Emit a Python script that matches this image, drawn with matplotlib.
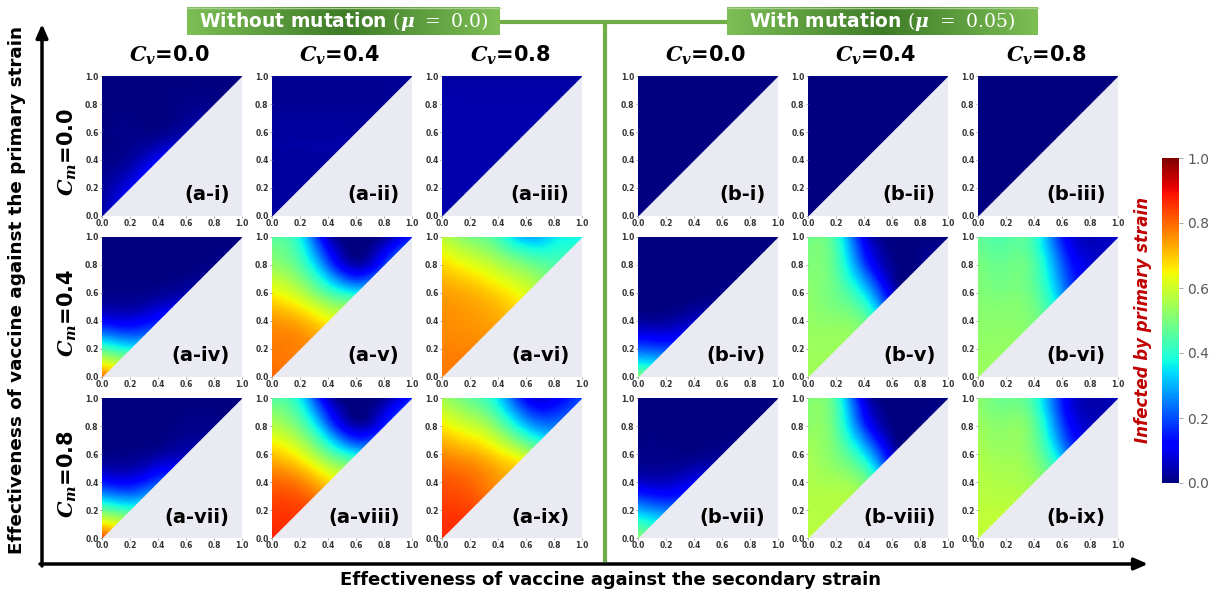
import numpy as np
import matplotlib
matplotlib.use('Agg')
import matplotlib.pyplot as plt
import matplotlib.tri as mtri
from matplotlib.colors import LinearSegmentedColormap, Normalize
from matplotlib.cm import ScalarMappable

plt.rcParams['font.family'] = ['DejaVu Sans']
plt.rcParams['mathtext.fontset'] = 'custom'
plt.rcParams['mathtext.it'] = 'DejaVu Serif:italic:bold'
plt.rcParams['mathtext.rm'] = 'DejaVu Serif'
plt.rcParams['mathtext.bf'] = 'DejaVu Serif:bold'

# ---------------- data ----------------
# grid of vaccine effectiveness values; row i holds values at
# primary = levels[i] for secondary = levels[0..i]  (primary >= secondary)
levels = [0.0, 0.2, 0.4, 0.6, 0.8, 1.0]
cv_values = ['0.0', '0.4', '0.8']
cm_values = ['0.0', '0.4', '0.8']
tick_vals = [0.0, 0.2, 0.4, 0.6, 0.8, 1.0]
cbar_ticks = [0.0, 0.2, 0.4, 0.6, 0.8, 1.0]
header_left = r'Without mutation $(\mu\ =\ 0.0)$'
header_right = r'With mutation $(\mu\ =\ 0.05)$'
xlabel_text = 'Effectiveness of vaccine against the secondary strain'
ylabel_text = 'Effectiveness of vaccine against the primary strain'
cbar_label = 'Infected by primary strain'

# without mutation
a_i = [[0.03],
       [0.02, 0.10],
       [0.01, 0.03, 0.11],
       [0.00, 0.01, 0.01, 0.04],
       [0.00, 0.00, 0.00, 0.01, 0.01],
       [0.00, 0.00, 0.00, 0.00, 0.00, 0.00]]
a_ii = [[0.03],
        [0.03, 0.03],
        [0.03, 0.03, 0.03],
        [0.03, 0.03, 0.03, 0.03],
        [0.02, 0.02, 0.02, 0.02, 0.02],
        [0.02, 0.02, 0.02, 0.02, 0.02, 0.02]]
a_iii = [[0.04],
         [0.04, 0.04],
         [0.04, 0.04, 0.04],
         [0.04, 0.04, 0.04, 0.04],
         [0.04, 0.04, 0.04, 0.04, 0.04],
         [0.03, 0.03, 0.03, 0.03, 0.03, 0.03]]
a_iv = [[0.80],
        [0.45, 0.38],
        [0.12, 0.10, 0.15],
        [0.01, 0.01, 0.02, 0.04],
        [0.00, 0.00, 0.00, 0.00, 0.01],
        [0.00, 0.00, 0.00, 0.00, 0.00, 0.00]]
a_v = [[0.80],
       [0.78, 0.77],
       [0.75, 0.72, 0.65],
       [0.65, 0.58, 0.45, 0.37],
       [0.53, 0.45, 0.22, 0.05, 0.18],
       [0.45, 0.37, 0.06, 0.00, 0.02, 0.15]]
a_vi = [[0.78],
        [0.77, 0.77],
        [0.76, 0.75, 0.73],
        [0.74, 0.72, 0.68, 0.62],
        [0.68, 0.63, 0.57, 0.50, 0.45],
        [0.58, 0.50, 0.43, 0.30, 0.35, 0.37]]
a_vii = [[0.84],
         [0.48, 0.42],
         [0.14, 0.12, 0.20],
         [0.01, 0.01, 0.03, 0.05],
         [0.00, 0.00, 0.00, 0.01, 0.01],
         [0.00, 0.00, 0.00, 0.00, 0.00, 0.00]]
a_viii = [[0.87],
          [0.85, 0.84],
          [0.80, 0.77, 0.68],
          [0.70, 0.63, 0.48, 0.36],
          [0.57, 0.48, 0.24, 0.05, 0.15],
          [0.45, 0.36, 0.06, 0.00, 0.02, 0.15]]
a_ix = [[0.86],
        [0.85, 0.84],
        [0.82, 0.80, 0.75],
        [0.76, 0.73, 0.67, 0.58],
        [0.66, 0.60, 0.50, 0.32, 0.25],
        [0.55, 0.47, 0.35, 0.12, 0.10, 0.20]]
# with mutation
b_i = [[0.0], [0.0, 0.0], [0.0, 0.0, 0.0], [0.0, 0.0, 0.0, 0.0],
       [0.0, 0.0, 0.0, 0.0, 0.0], [0.0, 0.0, 0.0, 0.0, 0.0, 0.0]]
b_ii = [[0.0], [0.0, 0.0], [0.0, 0.0, 0.0], [0.0, 0.0, 0.0, 0.0],
        [0.0, 0.0, 0.0, 0.0, 0.0], [0.0, 0.0, 0.0, 0.0, 0.0, 0.0]]
b_iii = [[0.0], [0.0, 0.0], [0.0, 0.0, 0.0], [0.0, 0.0, 0.0, 0.0],
         [0.0, 0.0, 0.0, 0.0, 0.0], [0.0, 0.0, 0.0, 0.0, 0.0, 0.0]]
b_iv = [[0.52],
        [0.22, 0.20],
        [0.03, 0.03, 0.06],
        [0.00, 0.00, 0.00, 0.01],
        [0.00, 0.00, 0.00, 0.00, 0.00],
        [0.00, 0.00, 0.00, 0.00, 0.00, 0.00]]
b_v = [[0.55],
       [0.54, 0.54],
       [0.53, 0.52, 0.48],
       [0.52, 0.48, 0.35, 0.08],
       [0.50, 0.45, 0.20, 0.02, 0.01],
       [0.48, 0.42, 0.10, 0.00, 0.00, 0.00]]
b_vi = [[0.54],
        [0.53, 0.53],
        [0.52, 0.52, 0.50],
        [0.51, 0.50, 0.47, 0.28],
        [0.50, 0.48, 0.45, 0.22, 0.08],
        [0.47, 0.45, 0.42, 0.15, 0.05, 0.08]]
b_vii = [[0.52],
         [0.30, 0.25],
         [0.07, 0.06, 0.10],
         [0.01, 0.01, 0.01, 0.02],
         [0.00, 0.00, 0.00, 0.00, 0.00],
         [0.00, 0.00, 0.00, 0.00, 0.00, 0.00]]
b_viii = [[0.58],
          [0.57, 0.57],
          [0.56, 0.55, 0.50],
          [0.55, 0.50, 0.35, 0.08],
          [0.52, 0.46, 0.18, 0.01, 0.00],
          [0.50, 0.43, 0.08, 0.00, 0.00, 0.00]]
b_ix = [[0.58],
        [0.58, 0.58],
        [0.57, 0.56, 0.54],
        [0.56, 0.54, 0.50, 0.30],
        [0.54, 0.52, 0.47, 0.20, 0.06],
        [0.52, 0.48, 0.42, 0.15, 0.04, 0.06]]

panels_left = [[a_i, a_ii, a_iii], [a_iv, a_v, a_vi], [a_vii, a_viii, a_ix]]
panels_right = [[b_i, b_ii, b_iii], [b_iv, b_v, b_vi], [b_vii, b_viii, b_ix]]
labels_left = [['(a-i)', '(a-ii)', '(a-iii)'], ['(a-iv)', '(a-v)', '(a-vi)'],
               ['(a-vii)', '(a-viii)', '(a-ix)']]
labels_right = [['(b-i)', '(b-ii)', '(b-iii)'], ['(b-iv)', '(b-v)', '(b-vi)'],
                ['(b-vii)', '(b-viii)', '(b-ix)']]

# ---------------- layout ----------------
W, H = 1216, 596
fig = plt.figure(figsize=(W / 100, H / 100), dpi=100)
fig.patch.set_facecolor('white')


def px_axes(x, y, w, h, **kw):
    return fig.add_axes([x / W, 1 - (y + h) / H, w / W, h / H], **kw)


overlay = px_axes(0, 0, W, H)
overlay.set_xlim(0, W)
overlay.set_ylim(H, 0)
overlay.axis('off')
overlay.set_zorder(0)

col_left = [102, 272, 442, 638, 808, 978]
row_top = [76, 237, 398]
PW = 140
PH = 140
cmap = plt.get_cmap('jet')


def draw_panel(ax, rows, label):
    xs, ys, zs = [], [], []
    for i, row in enumerate(rows):
        for j, v in enumerate(row):
            xs.append(levels[j])
            ys.append(levels[i])
            zs.append(v)
    tri = mtri.Triangulation(np.array(xs), np.array(ys))
    refiner = mtri.UniformTriRefiner(tri)
    tri_r, z_r = refiner.refine_field(np.array(zs), subdiv=4)
    ax.tripcolor(tri_r, np.clip(z_r, 0, 1), shading='gouraud', cmap=cmap,
                 vmin=0, vmax=1, rasterized=True)
    ax.set_facecolor('#EAEAF2')
    ax.set_xlim(0, 1)
    ax.set_ylim(0, 1)
    for s in ax.spines.values():
        s.set_visible(False)
    ax.set_xticks(tick_vals)
    ax.set_yticks(tick_vals)
    ax.set_xticklabels(['%.1f' % t for t in tick_vals])
    ax.set_yticklabels(['%.1f' % t for t in tick_vals])
    ax.tick_params(length=1.5, width=0.5, color='#888888', pad=1,
                   labelsize=5.5, labelcolor='#333333')
    for t in ax.get_xticklabels() + ax.get_yticklabels():
        t.set_fontweight('bold')
    ax.text(0.91, 0.15, label, transform=ax.transAxes, ha='right',
            va='center', fontsize=14, fontweight='bold', color='black')


for r in range(3):
    for c in range(3):
        ax = px_axes(col_left[c], row_top[r], PW, PH)
        draw_panel(ax, panels_left[r][c], labels_left[r][c])
        ax2 = px_axes(col_left[c + 3], row_top[r], PW, PH)
        draw_panel(ax2, panels_right[r][c], labels_right[r][c])

# column titles
for k in range(6):
    cx = col_left[k] + PW / 2 - 2
    overlay.text(cx, 55, r'$C_v$=' + cv_values[k % 3], ha='center',
                 va='center', fontsize=15, fontweight='bold')

# row titles
for r in range(3):
    cy = row_top[r] + PH / 2 + 6
    overlay.text(67, cy, r'$C_m$=' + cm_values[r], ha='center', va='center',
                 rotation=90, fontsize=15, fontweight='bold')

# axis arrows
overlay.annotate('', xy=(42, 24), xytext=(42, 566),
                 arrowprops=dict(arrowstyle='-|>,head_length=0.8,head_width=0.35',
                                 lw=2.5, color='black', shrinkA=0, shrinkB=0))
overlay.annotate('', xy=(1148, 564), xytext=(40, 564),
                 arrowprops=dict(arrowstyle='-|>,head_length=0.8,head_width=0.35',
                                 lw=2.5, color='black', shrinkA=0, shrinkB=0))
overlay.text(610, 580, xlabel_text, ha='center', va='center', fontsize=13,
             fontweight='bold')
overlay.text(17, 290, ylabel_text, ha='center', va='center', fontsize=13.2,
             fontweight='bold', rotation=90)

# green separator lines
green = '#70AD47'
overlay.plot([500, 727], [22, 22], color=green, lw=3, solid_capstyle='butt')
overlay.plot([605, 605], [22, 562], color=green, lw=3, solid_capstyle='butt')

# header boxes with gradient
grad_cmap = LinearSegmentedColormap.from_list('g', ['#7DBE55', '#3E7B27', '#7DBE55'])
grad = np.linspace(0, 1, 200).reshape(1, -1)
for (x0, x1, txt) in [(187, 500, header_left), (727, 1038, header_right)]:
    overlay.imshow(grad, cmap=grad_cmap, extent=(x0, x1, 35, 7), aspect='auto',
                   zorder=2)
    overlay.plot([x0, x1], [7.5, 7.5], color='#A9D18E', lw=1, zorder=3)
    overlay.text((x0 + x1) / 2, 21.5, txt, ha='center', va='center',
                 color='white', fontsize=13.5, fontweight='bold', zorder=4)
overlay.set_xlim(0, W)
overlay.set_ylim(H, 0)

# colorbar
cax = px_axes(1162, 158, 17, 325)
sm = ScalarMappable(norm=Normalize(0, 1), cmap=cmap)
cb = fig.colorbar(sm, cax=cax)
cb.outline.set_visible(False)
cb.set_ticks(cbar_ticks)
cb.set_ticklabels(['%.1f' % t for t in cbar_ticks])
cax.tick_params(length=3, width=0.6, color='#999999', labelsize=10,
                labelcolor='#595959', pad=3)
overlay.text(1143, 320, cbar_label, ha='center', va='center', rotation=90,
             fontsize=12, fontweight='bold', fontstyle='italic', color='#C00000')

fig.savefig('out.png', dpi=100, facecolor='white')
